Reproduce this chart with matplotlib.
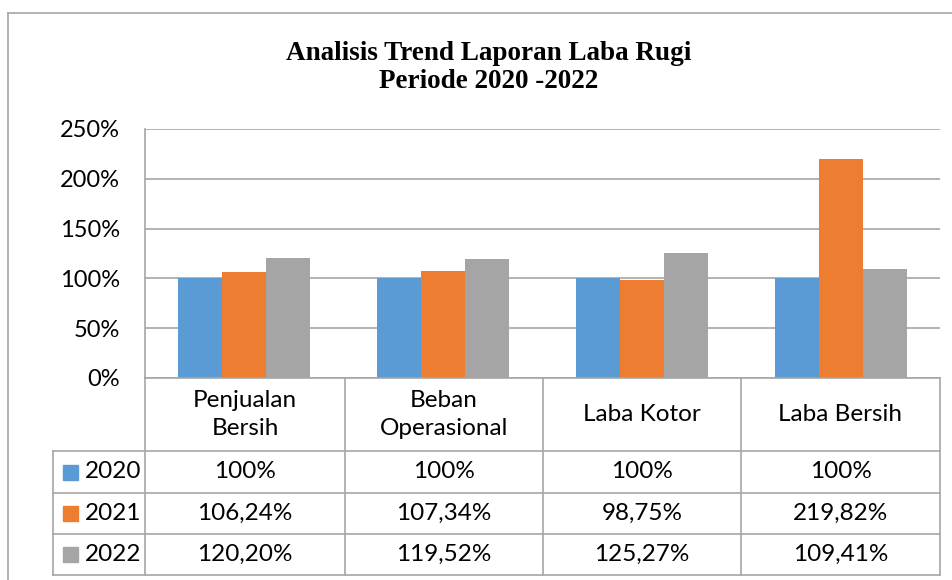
import matplotlib
matplotlib.use("Agg")
import matplotlib.pyplot as plt
from matplotlib.lines import Line2D
from matplotlib.patches import Rectangle

categories = ["Penjualan\nBersih", "Beban\nOperasional", "Laba Kotor", "Laba Bersih"]
years = ["2020", "2021", "2022"]
v2020 = [100, 100, 100, 100]
v2021 = [106.24, 107.34, 98.75, 219.82]
v2022 = [120.20, 119.52, 125.27, 109.41]
yticks = [0, 50, 100, 150, 200, 250]

colors = ["#5B9BD5", "#ED7D31", "#A5A5A5"]
GRID = "#A6A6A6"
W, H = 953, 580


def fx(x):
    return x / W


def fy(y):
    return 1 - y / H


def fmt(v):
    if float(v).is_integer():
        return f"{int(v)}%"
    return f"{v:.2f}%".replace(".", ",")


fig = plt.figure(figsize=(W / 100, H / 100), dpi=100)
body = "Lato"
fs = 17.5

# outer chart border
fig.add_artist(Line2D([fx(8), fx(8)], [fy(13), fy(580)], color=GRID, lw=1.2))
fig.add_artist(Line2D([fx(8), fx(953)], [fy(13), fy(13)], color=GRID, lw=1.2))

fig.text(fx(489), fy(54), "Analisis Trend Laporan Laba Rugi", ha="center", va="center",
         family="Liberation Serif", weight="bold", fontsize=19.5)
fig.text(fx(489), fy(82), "Periode 2020 -2022", ha="center", va="center",
         family="Liberation Serif", weight="bold", fontsize=19.5)

left, right, top, bottom = 145, 940, 129, 378
ax = fig.add_axes([fx(left), fy(bottom), fx(right - left), (bottom - top) / H])

series = [v2020, v2021, v2022]
bw = 0.221
xs = range(len(categories))
for i, (vals, c) in enumerate(zip(series, colors)):
    ax.bar([x + (i - 1) * bw for x in xs], vals, width=bw, color=c, zorder=3)

ax.set_xlim(-0.5, len(categories) - 0.5)
ax.set_ylim(0, 250)
ax.set_yticks(yticks)
ax.set_yticklabels([f"{t}%" for t in yticks], family=body, fontsize=17)
ax.set_xticks([])
ax.tick_params(axis="y", length=0, pad=18)
ax.grid(axis="y", color=GRID, lw=1.2, zorder=0)
for s in ["top", "right", "bottom"]:
    ax.spines[s].set_visible(False)
ax.spines["left"].set_color(GRID)
ax.spines["left"].set_linewidth(1.2)

# data table below the axes
cols = [145, 345, 543, 741, 940]
rows = [378, 451, 493, 534, 575]
for x in cols:
    fig.add_artist(Line2D([fx(x), fx(x)], [fy(rows[0]), fy(rows[-1])], color=GRID, lw=1.2))
fig.add_artist(Line2D([fx(53), fx(53)], [fy(rows[1]), fy(rows[-1])], color=GRID, lw=1.2))
fig.add_artist(Line2D([fx(145), fx(940)], [fy(rows[0]), fy(rows[0])], color=GRID, lw=1.2))
for y in rows[1:]:
    fig.add_artist(Line2D([fx(53), fx(940)], [fy(y), fy(y)], color=GRID, lw=1.2))

for j, cat in enumerate(categories):
    cx = (cols[j] + cols[j + 1]) / 2
    cy = (rows[0] + rows[1]) / 2
    fig.text(fx(cx), fy(cy), cat, ha="center", va="center", family=body,
             fontsize=fs, linespacing=1.45)

for i, (yr, vals, c) in enumerate(zip(years, series, colors)):
    cy = (rows[i + 1] + rows[i + 2]) / 2
    fig.add_artist(Rectangle((fx(63), fy(cy + 7.5)), fx(15), 15 / H, color=c))
    fig.text(fx(85), fy(cy), yr, ha="left", va="center", family=body, fontsize=fs)
    for j, v in enumerate(vals):
        cx = (cols[j] + cols[j + 1]) / 2
        fig.text(fx(cx), fy(cy), fmt(v), ha="center", va="center", family=body,
                 fontsize=fs)

fig.savefig("out.png", dpi=100)
